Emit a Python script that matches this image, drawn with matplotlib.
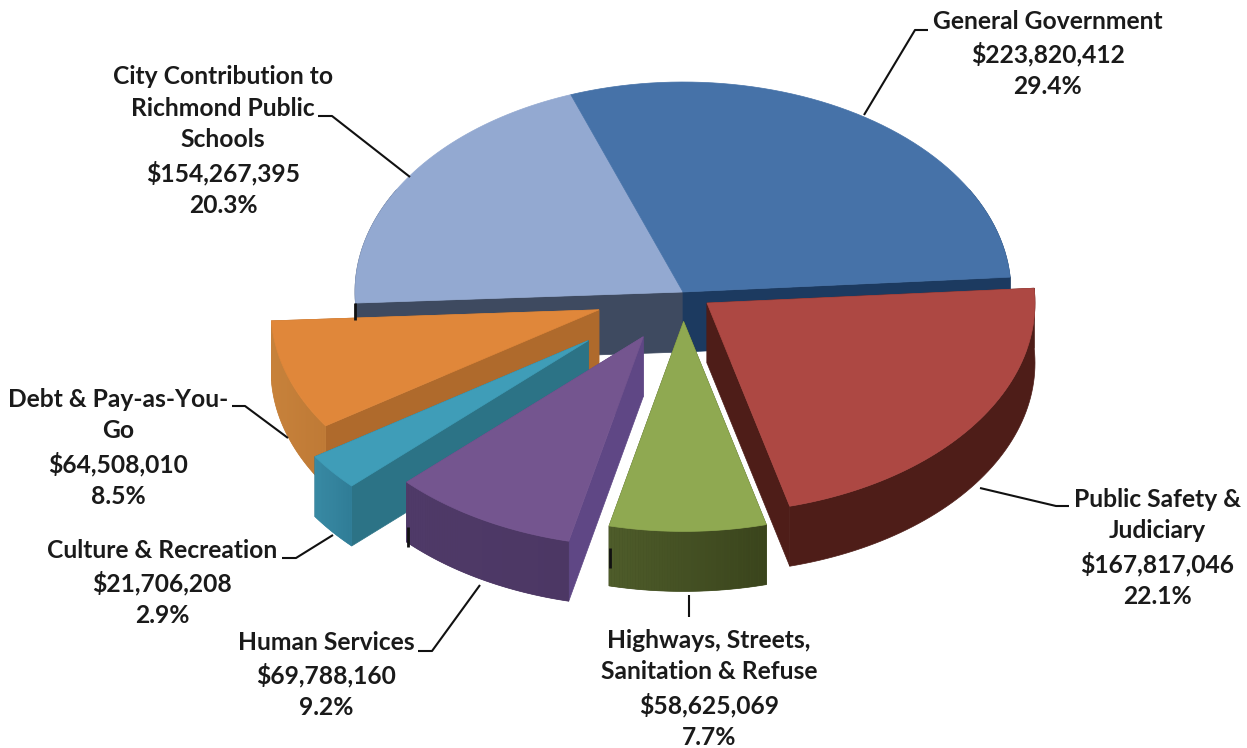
import numpy as np
import matplotlib
matplotlib.use('Agg')
import matplotlib.pyplot as plt

# ################## DATA ######################
names = ['General Government', 'Public Safety &\nJudiciary', 'Highways, Streets,\nSanitation & Refuse',
         'Human Services', 'Culture & Recreation', 'Debt & Pay-as-You-\nGo',
         'City Contribution to\nRichmond Public\nSchools']
amounts = [223820412, 167817046, 58625069, 69788160, 21706208, 64508010, 154267395]
percents = [29.4, 22.1, 7.7, 9.2, 2.9, 8.5, 20.3]

# ################## STYLE ######################
explode = [0.0, 0.09, 0.14, 0.245, 0.37, 0.27, 0.0]
top_col = ['#4672A8', '#AD4843', '#8FA951', '#74558F', '#3F9DB8', '#E0873A', '#93A9D1']
side_col = ['#1C3A60', '#4E1D18', '#3E4A1F', '#5F4785', '#2C7386', '#AF6A2C', '#3E4A60']
rim_a = ['#1C3A60', '#4E1D18', '#3A441C', '#4C3764', '#2F7C96', '#BF7A36', '#3E4A60']  # clockwise start of arc
rim_b = ['#1C3A60', '#4E1D18', '#4E5C2A', '#4F3A68', '#3A8CA6', '#CB853D', '#3E4A60']  # clockwise end of arc
draw_order = [6, 0, 5, 4, 3, 2, 1]

label_xy = [(1048, 54), (1157, 548), (709, 689), (326, 675), (162, 583), (118, 448), (223, 141)]
leaders = [[(928, 30), (915, 30), (864, 115)],
           [(1069, 506), (1056, 506), (980, 488)],
           [(689, 595), (689, 617)],
           [(418, 651), (432, 651), (480, 585)],
           [(282, 558), (296, 558), (333, 535)],
           [(232, 406), (245, 406), (288, 438)],
           [(318, 116), (332, 116), (410, 177)]]
# little black stubs which show beside the slices in the original
stubs = [[(610, 548), (610, 568)], [(408, 527), (408, 547)], [(355, 303), (355, 320)]]

cx, cy = 683, 292
rx, ry = 328, 210
depth = 60
start = -20.0

plt.rcParams['font.family'] = ['Lato', 'DejaVu Sans']
fig = plt.figure(figsize=(12.47, 7.48), dpi=100)
ax = fig.add_axes([0, 0, 1, 1])
ax.set_xlim(0, 1247)
ax.set_ylim(748, 0)
ax.axis('off')


def project(t, r=1.0):
    t = np.radians(t)
    return r * rx * np.sin(t), -r * ry * np.cos(t)


def mix(c1, c2, f):
    a = np.array(matplotlib.colors.to_rgb(c1))
    b = np.array(matplotlib.colors.to_rgb(c2))
    return a + (b - a) * f


total = sum(amounts)
edges = start + 360 * np.cumsum([0] + amounts) / total

# ################## SLICES ######################
for i in draw_order:
    t0, t1 = edges[i], edges[i + 1]
    mid = (t0 + t1) / 2
    ox, oy = project(mid, explode[i])
    tipx, tipy = cx + ox, cy + oy
    ts = np.linspace(t0, t1, 60)
    arcx, arcy = project(ts)
    arcx = arcx + tipx
    arcy = arcy + tipy

    # flat cut faces going down from the straight edges, the ones pointing to the back stay hidden
    for k in [0, -1]:
        if np.cos(np.radians(ts[k])) > 0.5:
            continue
        ax.fill([tipx, arcx[k], arcx[k], tipx],
                [tipy, arcy[k], arcy[k] + depth, tipy + depth],
                color=side_col[i], lw=0.5)

    # outer rim: one base shape, then short pieces so the colour can shift along it
    front = np.cos(np.radians(ts)) < 0.5
    ax.fill(np.r_[arcx[front], arcx[front][::-1]], np.r_[arcy[front], arcy[front][::-1] + depth],
            color=mix(rim_a[i], rim_b[i], 0.5), lw=0.5)
    if rim_a[i] != rim_b[i]:
        for k in range(len(ts) - 1):
            ax.fill([arcx[k], arcx[k + 1], arcx[k + 1], arcx[k]],
                    [arcy[k], arcy[k + 1], arcy[k + 1] + depth, arcy[k] + depth],
                    color=mix(rim_a[i], rim_b[i], k / (len(ts) - 2)), lw=0)

    ax.fill(np.r_[tipx, arcx], np.r_[tipy, arcy], color=top_col[i], lw=0.5)

# ################## LABELS ######################
for i in range(len(names)):
    xs, ys = zip(*leaders[i])
    ax.plot(xs, ys, color='#111111', lw=1.5, solid_capstyle='butt')
    ax.text(label_xy[i][0], label_xy[i][1],
            '%s\n$%s\n%.1f%%' % (names[i], format(amounts[i], ','), percents[i]),
            ha='center', va='center', ma='center', fontsize=17.7, fontweight='bold',
            color='#1a1a1a', linespacing=1.465)

for s in stubs:
    xs, ys = zip(*s)
    ax.plot(xs, ys, color='#111111', lw=2, solid_capstyle='butt')

fig.savefig('out.png', dpi=100, facecolor='white')
